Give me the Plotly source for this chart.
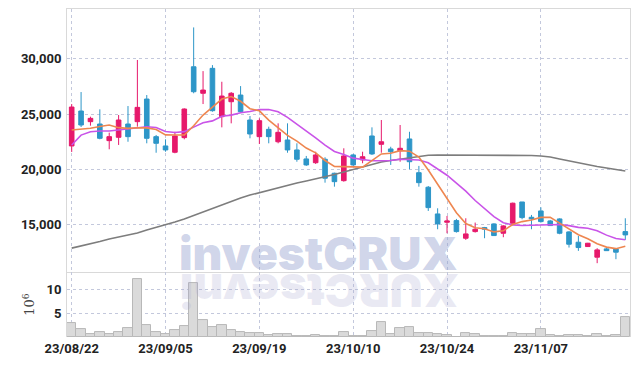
import plotly.graph_objects as go
from plotly.subplots import make_subplots

dates = ["23/08/22", "23/08/23", "23/08/24", "23/08/25", "23/08/28", "23/08/29", "23/08/30", "23/08/31",
         "23/09/01", "23/09/04", "23/09/05", "23/09/06", "23/09/07", "23/09/08", "23/09/11", "23/09/12",
         "23/09/13", "23/09/14", "23/09/15", "23/09/18", "23/09/19", "23/09/20", "23/09/21", "23/09/22",
         "23/09/25", "23/09/26", "23/09/27", "23/10/04", "23/10/05", "23/10/06", "23/10/10", "23/10/11",
         "23/10/12", "23/10/13", "23/10/16", "23/10/17", "23/10/18", "23/10/19", "23/10/20", "23/10/23",
         "23/10/24", "23/10/25", "23/10/26", "23/10/27", "23/10/30", "23/10/31", "23/11/01", "23/11/02",
         "23/11/03", "23/11/06", "23/11/07", "23/11/08", "23/11/09", "23/11/10", "23/11/13", "23/11/14",
         "23/11/15", "23/11/16", "23/11/17", "23/11/20"]

open_ = [22120, 25270, 24310, 24100, 22600, 22900, 24100, 24310, 26350, 22960, 22120, 21550, 22870, 29260, 26870, 29120,
         24760, 26110, 26710, 24460, 22960, 23620, 22500, 22660, 21760, 20950, 20610, 20920, 19660, 18990, 21310, 20860,
         23020, 22270, 21850, 21690, 22750, 19710, 18400, 15990, 15240, 15390, 13800, 14400, 14760, 15090, 14250, 15150,
         17070, 15690, 16260, 15360, 15540, 14370, 13440, 13050, 12090, 12840, 12840, 14400]
high = [25900, 26980, 24760, 25420, 23320, 24910, 25720, 29870, 26710, 23110, 22720, 23400, 25510, 32810, 28870, 29410,
        27910, 26980, 27520, 24820, 24610, 23860, 24160, 24160, 22360, 21220, 21600, 21100, 19710, 21910, 21400, 21600,
        23800, 24460, 22050, 24010, 23400, 20320, 18510, 16500, 15810, 15540, 15600, 15210, 14820, 15150, 14970, 17010,
        17070, 15900, 16590, 15450, 15600, 14430, 14010, 13380, 12900, 12990, 12900, 15600]
low = [21580, 23830, 23950, 22720, 21820, 22210, 22500, 23860, 22360, 21510, 21600, 21460, 22720, 26870, 25900, 25210,
       23800, 24160, 25120, 22810, 22300, 22360, 22360, 21510, 20700, 20320, 20500, 18810, 18450, 18900, 20320, 20560,
       21310, 21510, 20410, 20700, 20020, 18450, 16260, 14610, 14250, 14310, 13650, 14310, 13800, 14010, 13890, 15150,
       15510, 14610, 15210, 14910, 14160, 12960, 12660, 13020, 11550, 12660, 11910, 13650]
close = [25630, 24010, 24610, 22810, 22960, 24460, 22960, 25600, 22810, 22360, 21760, 23020, 25450, 27010, 27160, 25300,
         26620, 26870, 25210, 23200, 24400, 22960, 23350, 21760, 20920, 20410, 21310, 19210, 18900, 21220, 20410, 21150,
         21400, 22500, 21600, 21910, 20700, 18810, 16560, 15090, 15360, 14400, 14190, 14610, 14610, 14040, 14910, 16960,
         15660, 15540, 15300, 14940, 14250, 13260, 12960, 13350, 12750, 12680, 12540, 14100]

ma5 = [23560, 23620, 23710, 23870, 24010, 23770, 23710, 23760, 23750, 23600, 23120, 23110, 23110, 23940, 24910, 25630,
       26350, 26580, 26150, 25480, 25290, 24450, 23780, 23070, 22550, 21930, 21500, 20810, 20280, 20230, 20230, 20210,
       20800, 21400, 21460, 21700, 21650, 21120, 19950, 18700, 17420, 16100, 15130, 14740, 14650, 14370, 14470, 15040,
       15300, 15450, 15680, 15680, 15160, 14620, 14110, 13750, 13310, 13000, 12860, 13080]
ma10 = [22200, 23100, 23400, 23470, 23470, 23560, 23710, 23800, 23850, 23780, 23420, 23340, 23410, 23820, 24210, 24380,
        24800, 24900, 25110, 25220, 25400, 25400, 25200, 24700, 24080, 23520, 22850, 22190, 21620, 21340, 21020, 20900,
        20780, 20780, 20810, 20920, 20900, 20850, 20600, 20050, 19480, 18770, 18050, 17200, 16500, 15750, 15200, 15000,
        14950, 14980, 14990, 15030, 15040, 14940, 14780, 14700, 14480, 14080, 13770, 13660]
ma60 = [12910, 13090, 13270, 13500, 13730, 13910, 14090, 14270, 14540, 14760, 14990, 15260, 15530, 15850, 16160, 16520,
        16840, 17150, 17420, 17690, 17920, 18150, 18370, 18600, 18780, 18960, 19140, 19320, 19540, 19770, 19990, 20270,
        20490, 20670, 20810, 20940, 21080, 21210, 21280, 21300, 21300, 21310, 21310, 21320, 21320, 21310, 21300, 21300,
        21290, 21260, 21210, 21120, 20940, 20760, 20580, 20400, 20270, 20130, 19990, 19860]

volume = [2.85, 1.6, 0.56, 0.97, 0.56, 0.97, 1.8, 12.2, 2.6, 0.97, 0.56, 1.46, 2.36, 11.4, 3.54, 2.0,
          2.6, 1.39, 1.04, 0.83, 0.76, 0.35, 0.56, 0.56, 0.14, 0.14, 0.35, 0.2, 0.2, 0.97, 0.28, 0.28,
          1.25, 3.06, 0.63, 1.8, 2.0, 0.76, 0.83, 0.63, 0.42, 0.07, 0.76, 0.63, 0.14, 0.14, 0.14, 0.76,
          0.63, 0.63, 1.67, 0.42, 0.14, 0.35, 0.35, 0.14, 0.63, 0.14, 0.35, 4.1]

price_ticks = [15000, 20000, 25000, 30000]
volume_ticks = [5, 10]
date_ticks = ["23/08/22", "23/09/05", "23/09/19", "23/10/10", "23/10/24", "23/11/07"]

RED = "#e6196b"
BLUE = "#2d96c8"
GRID = "#c3c8dc"
FRAME = "#d9d9d9"
TICKFONT = dict(family="Roboto, sans-serif", size=13, color="#222222", weight="bold")

fig = make_subplots(rows=2, cols=1, shared_xaxes=True, vertical_spacing=0, row_heights=[0.802, 0.198])

fig.add_trace(go.Candlestick(
    x=dates, open=open_, high=high, low=low, close=close,
    increasing=dict(line=dict(color=RED, width=1), fillcolor=RED),
    decreasing=dict(line=dict(color=BLUE, width=1), fillcolor=BLUE),
    whiskerwidth=0, showlegend=False), row=1, col=1)

fig.add_trace(go.Scatter(x=dates, y=ma60, mode="lines", line=dict(color="#7d7d7d", width=1.6),
                         showlegend=False), row=1, col=1)
fig.add_trace(go.Scatter(x=dates, y=ma10, mode="lines", line=dict(color="#c954e8", width=1.6),
                         showlegend=False), row=1, col=1)
fig.add_trace(go.Scatter(x=dates, y=ma5, mode="lines", line=dict(color="#ee8650", width=1.6),
                         showlegend=False), row=1, col=1)

fig.add_trace(go.Bar(x=dates, y=volume, marker=dict(color="#dadada", line=dict(color="#b8b8b8", width=1)),
                     showlegend=False), row=2, col=1)

fig.update_xaxes(type="category", range=[-0.5, len(dates) - 0.5], tickmode="array", tickvals=date_ticks,
                 showgrid=True, gridcolor=GRID, griddash="dot", gridwidth=1, zeroline=False,
                 rangeslider_visible=False, ticks="", tickfont=TICKFONT, automargin=False)
fig.update_xaxes(showticklabels=False, showline=True, mirror=True, linecolor=FRAME, linewidth=1, row=1, col=1)
fig.update_xaxes(showticklabels=True, showline=False, ticklabelstandoff=2, row=2, col=1)

fig.update_yaxes(range=[10750, 34470], tickmode="array", tickvals=price_ticks, tickformat=",d",
                 showgrid=True, gridcolor=GRID, griddash="dot", zeroline=False, showline=True, mirror=True,
                 linecolor=FRAME, ticks="", tickfont=TICKFONT, ticklabelstandoff=2, automargin=False,
                 row=1, col=1)
fig.update_yaxes(range=[0, 13.6], tickmode="array", tickvals=volume_ticks, showgrid=True, gridcolor=GRID,
                 griddash="dot", zeroline=False, showline=True, mirror=True, linecolor=FRAME, ticks="",
                 tickfont=TICKFONT, ticklabelstandoff=2, automargin=False,
                 title=dict(text="10<sup>6</sup>", font=dict(family="DejaVu Serif", size=13, color="#444444"),
                            standoff=8), row=2, col=1)

fig.add_annotation(text="investCRUX", xref="paper", yref="paper", x=0.4476, y=0.2576, xanchor="center",
                   yanchor="middle", showarrow=False,
                   font=dict(family="Inter, DejaVu Sans", size=46, color="rgba(150,163,208,0.45)", weight=900))
fig.add_annotation(text="XURCtsevni", xref="paper", yref="paper", x=0.4476, y=0.138, xanchor="center",
                   yanchor="middle", showarrow=False, textangle=180,
                   font=dict(family="Inter, DejaVu Sans", size=46, color="rgba(170,170,210,0.25)", weight=900))

fig.update_layout(width=623, height=358, margin=dict(l=59, r=1, t=1, b=29, autoexpand=False),
                  paper_bgcolor="white", plot_bgcolor="white", bargap=0, hovermode=False,
                  showlegend=False)

fig.write_html("out.html")
